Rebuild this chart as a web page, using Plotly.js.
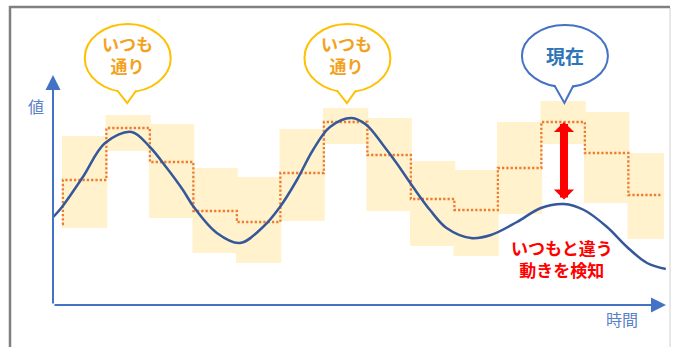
<!DOCTYPE html>
<html>
<head>
<meta charset="utf-8">
<script src="https://cdn.plot.ly/plotly-3.0.1.min.js"></script>
<style>html,body{margin:0;padding:0;background:#fff;}#chart{width:674px;height:347px;}</style>
</head>
<body>
<div id="chart"></div>
<script>
// ---- data (time slots, value units) ----
const slotStart = [0, 1, 2, 3, 4, 5, 6, 7, 8, 9, 10, 11, 12, 13];
const slotEnd   = [1, 2, 3, 4, 5, 6, 7, 8, 9, 10, 11, 12, 13, 13.8];
const bandHigh  = [16.9, 19.0, 18.1, 13.7, 12.8, 17.6, 19.7, 18.7, 14.4, 13.5, 18.3, 20.4, 19.3, 15.2];
const bandLow   = [7.7, 15.4, 8.7, 5.2, 4.2, 8.4, 16.1, 9.4, 5.9, 4.9, 9.1, 16.1, 10.2, 6.6];
const usualV    = [12.5, 17.7, 14.3, 9.4, 8.3, 13.2, 18.3, 15.0, 10.6, 9.5, 13.7, 18.3, 15.2, 11.0];
const usualStartV = 8.1;

const curveT = [-0.20, 0.00, 0.48, 0.99, 1.60, 2.02, 2.41, 2.78, 3.03, 3.56, 4.09, 4.62, 5.01, 5.40, 5.77, 6.16, 6.66, 7.00, 7.38, 7.69, 8.07, 8.46, 8.84, 9.40, 9.86, 10.46, 11.01, 11.54, 12.00, 12.53, 12.99, 13.45, 13.88];
const curveV = [8.8, 9.8, 12.8, 16.2, 17.3, 15.8, 13.7, 11.5, 9.8, 7.2, 6.2, 7.8, 9.8, 12.5, 15.5, 17.8, 18.7, 18.0, 16.0, 14.2, 11.8, 9.5, 7.7, 6.7, 7.0, 8.3, 9.7, 10.1, 9.5, 7.8, 5.8, 4.2, 3.6];

const axisOriginT = -0.207;
const axisEndT = 13.885;
const axisTopV = 23;

const bubbleSlots = [1, 6, 11];
const bubbleLines = [["いつも", "通り"], ["いつも", "通り"], ["現在"]];
const alertLines = ["いつもと違う", "動きを検知"];
const yLabel = "値";
const xLabel = "時間";

// ---- styles ----
const OVERLAP = 0.04;
const C_BAND = "#FFF2CC", C_STEP = "#ED7D31", C_CURVE = "#36589B", C_AXIS = "#4472C4";
const C_ORANGE = "#FFC000", C_ORANGE_TXT = "#F4A11E", C_BLUE = "#4472C4", C_BLUE_TXT = "#2E75B6";
const C_RED = "#FF0000", C_LABEL = "#5A7FCB";
const FONT = "'Noto Sans CJK JP', 'Noto Sans', sans-serif";
const W = 674, H = 347;
const BUBBLE_TIP_V = 20.2;

// bands
const bandX = slotStart.map((s, i) => (s + slotEnd[i] + OVERLAP) / 2);
const bandW = slotStart.map((s, i) => slotEnd[i] - s + OVERLAP);
const bandH = bandHigh.map((h, i) => h - bandLow[i]);

// step line
const stepX = [slotStart[0]].concat(slotStart.map(s => s + 0.02)).concat([slotEnd[slotEnd.length - 1]]);
const stepY = [usualStartV].concat(usualV).concat([usualV[usualV.length - 1]]);

// current peak
let peakIdx = 0;
for (let i = 0; i < curveT.length; i++) if (curveT[i] > 11 && curveT[i] < 12.2 && (peakIdx === 0 || curveV[i] > curveV[peakIdx])) peakIdx = i;
const nowSlot = 11;

const traces = [
  {type: "bar", x: bandX, y: bandH, base: bandLow, width: bandW,
   marker: {color: C_BAND, line: {width: 0}}, hoverinfo: "skip", showlegend: false},
  {type: "scatter", mode: "lines", x: stepX, y: stepY,
   line: {shape: "hv", color: C_STEP, width: 2.3, dash: "2.3px,2px"}, hoverinfo: "skip", showlegend: false},
  {type: "scatter", mode: "lines", x: curveT, y: curveV,
   line: {shape: "spline", smoothing: 1, color: C_CURVE, width: 2.5}, hoverinfo: "skip", showlegend: false}
];

const shapes = [];
const annotations = [];

// frame
shapes.push({type: "line", xref: "paper", yref: "paper", x0: 9 / W, x1: 670 / W, y0: 1 - 7 / H, y1: 1 - 7 / H, line: {color: "#808080", width: 2.5}});
shapes.push({type: "line", xref: "paper", yref: "paper", x0: 10 / W, x1: 10 / W, y0: 0, y1: 1 - 6 / H, line: {color: "#808080", width: 2.5}});
shapes.push({type: "line", xref: "paper", yref: "paper", x0: 670 / W, x1: 670 / W, y0: 0, y1: 1 - 8 / H, line: {color: "#D0D0D0", width: 1}});

// bubbles
bubbleSlots.forEach((s, k) => {
  const blue = bubbleLines[k].length === 1;
  const xc = (slotStart[s] + slotEnd[s]) / 2 + (k === 0 ? 0 : 0.05);
  const col = blue ? C_BLUE : C_ORANGE;
  const cy = blue ? 47 : 45, ry = blue ? 31 : 34, rx = 43;
  const th = cy - ry + 1.5; // tail junction height
  const base = {xref: "x", yref: "y", xsizemode: "pixel", ysizemode: "pixel", xanchor: xc, yanchor: BUBBLE_TIP_V};
  shapes.push(Object.assign({type: "circle", x0: -rx + 0.5, x1: rx + 0.5, y0: cy - ry, y1: cy + ry,
    fillcolor: "#ffffff", line: {color: col, width: 2}}, base));
  shapes.push(Object.assign({type: "path", path: `M -9,${th - 0.5} L 0,1 L 8,${th - 0.5} L 8,${th + 5} L -9,${th + 5} Z`,
    fillcolor: "#ffffff", line: {width: 0}}, base));
  shapes.push(Object.assign({type: "path", path: `M -10,${th} L 0,0 L 9,${th}`,
    line: {color: col, width: 2}}, base));
  const txt = "<b>" + bubbleLines[k].join("<br>") + "</b>";
  annotations.push({x: xc, y: BUBBLE_TIP_V, xref: "x", yref: "y", text: txt, showarrow: false,
    yshift: blue ? 48 : 49, xshift: blue ? 1 : 0,
    font: {family: FONT, size: blue ? 19 : 17, color: blue ? C_BLUE_TXT : C_ORANGE_TXT}});
});

// axes arrows
annotations.push({x: axisOriginT, y: axisTopV, ax: axisOriginT, ay: 0, xref: "x", yref: "y", axref: "x", ayref: "y",
  text: "", showarrow: true, arrowhead: 2, arrowsize: 1.5, arrowwidth: 2, arrowcolor: C_AXIS});
annotations.push({x: axisEndT, y: 0, ax: axisOriginT, ay: 0, xref: "x", yref: "y", axref: "x", ayref: "y",
  text: "", showarrow: true, arrowhead: 2, arrowsize: 1.5, arrowwidth: 2, arrowcolor: C_AXIS});
annotations.push({x: axisOriginT, y: 19.9, xref: "x", yref: "y", text: yLabel, showarrow: false, xshift: -17,
  font: {family: FONT, size: 16, color: C_LABEL}});
annotations.push({x: axisEndT, y: 0, xref: "x", yref: "y", text: xLabel, showarrow: false, xshift: -44, yshift: -14,
  font: {family: FONT, size: 16, color: C_LABEL}});

// red double arrow
annotations.push({x: curveT[peakIdx], y: usualV[nowSlot], ax: curveT[peakIdx], ay: curveV[peakIdx],
  xref: "x", yref: "y", axref: "x", ayref: "y", text: "", showarrow: true,
  arrowhead: 1, startarrowhead: 1, arrowside: "end+start", arrowsize: 0.42, startarrowsize: 0.42,
  arrowwidth: 8, arrowcolor: C_RED, startstandoff: 3});
annotations.push({x: curveT[peakIdx], y: curveV[peakIdx], xref: "x", yref: "y",
  text: "<b>" + alertLines.join("<br>") + "</b>", showarrow: false, xshift: -2, yshift: -54,
  font: {family: FONT, size: 17, color: C_RED}});

const layout = {
  width: W, height: H, autosize: false,
  margin: {l: 0, r: 0, t: 0, b: 0, pad: 0},
  paper_bgcolor: "#ffffff", plot_bgcolor: "#ffffff",
  showlegend: false, barmode: "overlay",
  xaxis: {range: [-62 / 43.5, (W - 62) / 43.5], showgrid: false, zeroline: false, showticklabels: false, showline: false, ticks: "", fixedrange: true},
  yaxis: {range: [(305 - H) / 10, 30.5], showgrid: false, zeroline: false, showticklabels: false, showline: false, ticks: "", fixedrange: true},
  shapes: shapes, annotations: annotations
};

Plotly.newPlot("chart", traces, layout, {staticPlot: true, displayModeBar: false});
</script>
</body>
</html>
